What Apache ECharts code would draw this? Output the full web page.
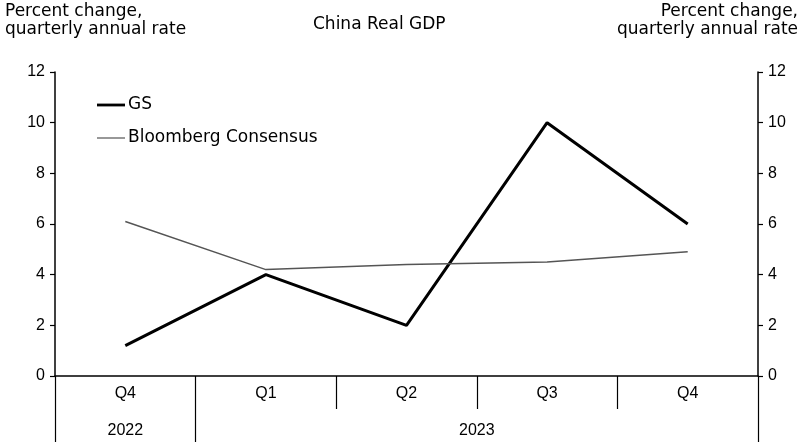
<!DOCTYPE html>
<html>
<head>
<meta charset="utf-8">
<script src="https://cdn.jsdelivr.net/npm/echarts@6/dist/echarts.min.js"></script>
<style>html,body{margin:0;padding:0;background:#fff}#c{width:802px;height:442px}</style>
</head>
<body>
<div id="c"></div>
<script>
const quarters = ['Q4', 'Q1', 'Q2', 'Q3', 'Q4'];
const years = ['2022', '2023'];
const quartersPerYear = [1, 4];
const gs = [1.2, 4.0, 2.0, 10.0, 6.0];
const bloomberg = [6.1, 4.2, 4.4, 4.5, 4.9];
const yTicks = [0, 2, 4, 6, 8, 10, 12];

// half-quarter slots for the year row: 0..2*quarters.length
const yearSlots = [];
const yearTickIdx = [0];
const yearLabelIdx = {};
let acc = 0;
years.forEach(function (y, i) {
  yearLabelIdx[acc + quartersPerYear[i]] = y;
  acc += 2 * quartersPerYear[i];
  yearTickIdx.push(acc);
});
for (let i = 0; i <= 2 * quarters.length; i++) yearSlots.push(yearLabelIdx[i] || '');

const chart = echarts.init(document.getElementById('c'), null, {renderer: 'canvas'});
const titleFont = {fontFamily: 'DejaVu Sans', fontSize: 17, fontWeight: 'normal', color: '#000', lineHeight: 18};
const tickFont = {fontFamily: 'Liberation Sans, Arial', fontSize: 16, color: '#000'};

const yAxisBase = {
  type: 'value', min: yTicks[0], max: yTicks[yTicks.length - 1], interval: 2,
  axisLine: {show: true, onZero: false, lineStyle: {color: '#000', width: 1.5}},
  axisTick: {show: true, inside: false, length: 5, lineStyle: {color: '#000', width: 1.2}},
  splitLine: {show: false},
  axisLabel: Object.assign({margin: 10}, tickFont)
};

chart.setOption({
  animation: false,
  backgroundColor: '#fff',
  title: [
    {text: 'China Real GDP', left: 313, top: 16, padding: 0, textStyle: titleFont},
    {text: 'Percent change,\nquarterly annual rate', left: 5, top: 3, padding: 0, textStyle: titleFont},
    {text: 'Percent change,\nquarterly annual rate', left: 798, top: 3, padding: 0, textAlign: 'right', textStyle: titleFont}
  ],
  legend: {
    orient: 'vertical', left: 97, top: 96, padding: 0, itemGap: 15, itemWidth: 28, itemHeight: 14,
    textStyle: {fontFamily: 'DejaVu Sans', fontSize: 17, color: '#000', lineHeight: 18, padding: [0, 0, 0, -2]},
    data: [
      {name: 'GS', icon: 'path://M0,0H30V3H0Z'},
      {name: 'Bloomberg Consensus', icon: 'path://M0,0H30V1.3H0Z'}
    ]
  },
  grid: {left: 55, right: 44, top: 72, bottom: 66, containLabel: false},
  xAxis: [
    {
      type: 'category', data: quarters, boundaryGap: true, position: 'bottom',
      axisLine: {show: true, onZero: false, lineStyle: {color: '#000', width: 1.5}},
      axisTick: {show: true, inside: false, length: 33, lineStyle: {color: '#000', width: 1.2}},
      axisLabel: Object.assign({margin: 10}, tickFont)
    },
    {
      type: 'category', data: yearSlots, boundaryGap: false, position: 'bottom', offset: 33,
      axisLine: {show: true, onZero: false, lineStyle: {color: 'rgba(0,0,0,0)', width: 1}},
      axisTick: {show: true, inside: false, length: 34,
                 interval: function (idx) { return yearTickIdx.indexOf(idx) >= 0; },
                 lineStyle: {color: '#000', width: 1.2}},
      axisLabel: Object.assign({
        margin: 14, interval: function (idx, val) { return val !== ''; }
      }, tickFont)
    }
  ],
  yAxis: [
    Object.assign({position: 'left'}, yAxisBase),
    Object.assign({position: 'right'}, yAxisBase)
  ],
  series: [
    {name: 'GS', type: 'line', data: gs, xAxisIndex: 0, yAxisIndex: 0, symbol: 'none',
     lineStyle: {color: '#000', width: 3}, itemStyle: {color: '#000'}},
    {name: 'Bloomberg Consensus', type: 'line', data: bloomberg, xAxisIndex: 0, yAxisIndex: 0, symbol: 'none',
     lineStyle: {color: '#555', width: 1.5}, itemStyle: {color: '#555'}}
  ]
});
</script>
</body>
</html>
